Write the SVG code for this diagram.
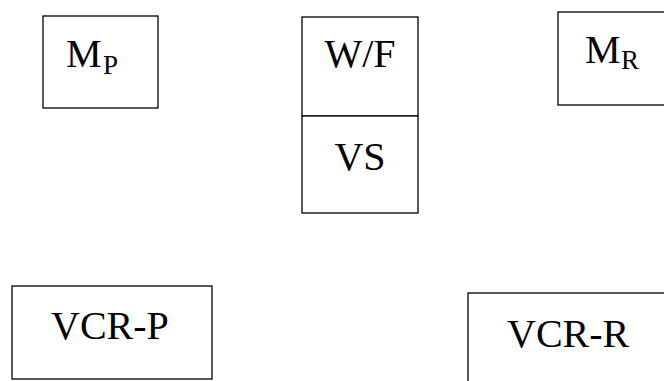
<svg xmlns="http://www.w3.org/2000/svg" width="664" height="381" viewBox="0 0 664 381">
<style>
.box{fill:#fff;stroke:#000;stroke-width:1.3}
.t{font-family:"Liberation Serif",serif;font-size:40px;fill:#000}
.s{font-family:"Liberation Serif",serif;font-size:27px;fill:#000}
</style>
<rect width="664" height="381" fill="#fff"/>
<g id="mp">
<rect class="box" x="43" y="16" width="115" height="92"/>
<text class="t" x="66" y="67">M</text>
<text class="s" x="103" y="74">P</text>
</g>
<g id="wf">
<rect class="box" x="302" y="17" width="116" height="99"/>
<text class="t" x="360" y="67" text-anchor="middle">W/F</text>
</g>
<g id="vs">
<rect class="box" x="302" y="116" width="116" height="97"/>
<text class="t" x="360" y="170" text-anchor="middle">VS</text>
</g>
<g id="mr">
<rect class="box" x="558" y="12" width="110" height="93"/>
<text class="t" x="585" y="63">M</text>
<text class="s" x="621" y="69">R</text>
</g>
<g id="vcrp">
<rect class="box" x="12" y="286" width="200" height="93"/>
<text class="t" x="51" y="339">VCR-P</text>
</g>
<g id="vcrr">
<rect class="box" x="468" y="293" width="200" height="95"/>
<text class="t" x="507" y="347">VCR-R</text>
</g>
<g id="connectors"></g>
</svg>
